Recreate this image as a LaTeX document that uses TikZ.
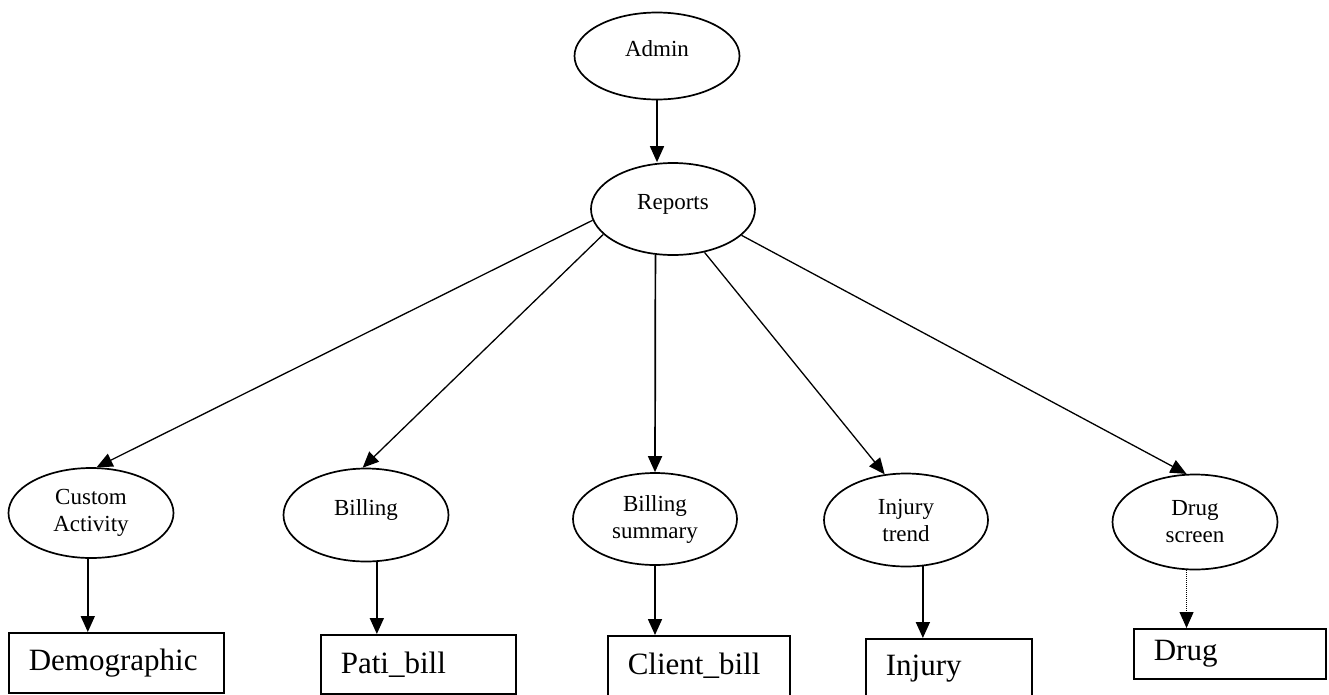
\documentclass[tikz,border=0pt]{standalone}
\usepackage{fontspec}
\setmainfont{Liberation Serif}
\usetikzlibrary{shapes.geometric,arrows.meta}
\newcommand{\smallfnt}{\fontsize{23pt}{27pt}\selectfont}
\newcommand{\bigfnt}{\fontsize{31pt}{36pt}\selectfont}
\tikzset{
  oval/.style={draw, ellipse, line width=1.7pt, inner sep=0pt, font=\smallfnt, align=center},
  oneline/.style={text height=10pt, text depth=10pt},
  leaf/.style={draw, rectangle, line width=1.6pt, inner xsep=20pt, inner ysep=0pt, align=left, font=\bigfnt, anchor=north west},
  tip/.style={-{Triangle[length=16pt,width=14pt]}},
  arr/.style={tip, line width=1.7pt},
  diag/.style={tip, line width=1.3pt},
}
\begin{document}
\begin{tikzpicture}[x=1pt,y=-1pt]
\clip (0,0) rectangle (1329,694);
\fill[white] (0,0) rectangle (1329,694);
% ellipses
\node[oval, oneline, minimum width=165pt, minimum height=87pt] (admin) at (657,56) {Admin};
\node[oval, oneline, minimum width=164pt, minimum height=92pt] (rep) at (673,209) {Reports};
\node[oval, minimum width=165pt, minimum height=90pt] (ca) at (91,513) {Custom\\Activity};
\node[oval, oneline, minimum width=165pt, minimum height=93pt] (bil) at (366,515) {Billing};
\node[oval, minimum width=164pt, minimum height=92pt] (bs) at (655,519) {Billing\\summary};
\node[oval, minimum width=164pt, minimum height=93pt] (it) at (906,520) {Injury\\trend};
\node[oval, minimum width=165pt, minimum height=95pt] (ds) at (1195,522) {Drug\\screen};
% boxes
\node[leaf, text width=175pt, minimum height=60pt] (demo) at (8,632) {Demographic};
\node[leaf, text width=155pt, minimum height=59pt] (pati) at (320,634) {Pati\_bill};
\node[leaf, text width=142pt, minimum height=60pt] (cli) at (607,635) {Client\_bill};
\node[leaf, text width=126pt, minimum height=60pt] (inj) at (865,638) {Injury};
\node[leaf, text width=152pt, minimum height=50pt] (drug) at (1133,628) {Drug};
% connectors
\draw[arr] (admin.south) -- (admin.south |- rep.north);
\draw[diag] (rep.188) -- (ca.83);
\draw[diag] (rep.200) -- (bil.94);
\draw[arr] (rep.249) -- (bs.north);
\draw[diag] (rep.306) -- (it.115);
\draw[diag] (rep.339) -- (ds.100);
\draw[arr] (ca.266) -- (ca.266 |- demo.north);
\draw[arr] (bil.283) -- (bil.283 |- pati.north);
\draw[arr] (bs.south) -- (bs.south |- cli.north);
\draw[arr] (it.290) -- (it.290 |- inj.north);
\draw[tip, line width=1pt, densely dotted] (ds.260) -- (ds.260 |- drug.north);
\end{tikzpicture}
\end{document}
